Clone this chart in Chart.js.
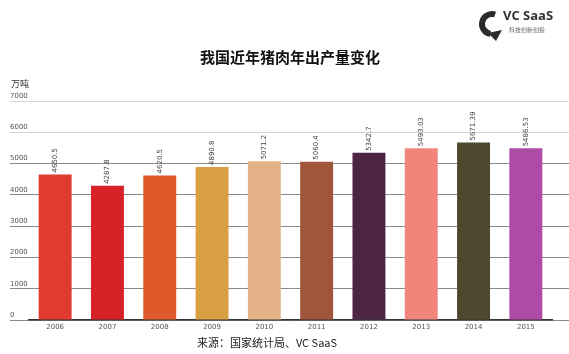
<!DOCTYPE html>
<html>
<head>
<meta charset="utf-8">
<script src="https://cdn.jsdelivr.net/npm/chart.js@4.4.0/dist/chart.umd.min.js"></script>
<style>
  html, body { margin: 0; padding: 0; background: #fff; }
  #wrap { width: 569px; height: 354px; }
</style>
</head>
<body>
<div id="wrap"><canvas id="grafico"></canvas></div>
<script>
const anios = ['2006', '2007', '2008', '2009', '2010', '2011', '2012', '2013', '2014', '2015'];
const produccion = [4650.5, 4287.8, 4620.5, 4890.8, 5071.2, 5060.4, 5342.7, 5493.03, 5671.39, 5486.53];
const etiquetas = ['4650.5', '4287.8', '4620.5', '4890.8', '5071.2', '5060.4', '5342.7', '5493.03', '5671.39', '5486.53'];
const colores = ['#e13a30', '#d62226', '#de5a2a', '#d9a043', '#e5b287', '#a0563a', '#4d2444', '#f0857c', '#4e482e', '#ae4ba7'];
const ticksY = [0, 1000, 2000, 3000, 4000, 5000, 6000, 7000];

const fuente = '"Noto Sans CJK SC", "Noto Sans", sans-serif';

// textos fijos: titulo, unidad, fuente y logo
const textos = {
    id: 'textos',
    afterDraw(chart) {
        const ctx = chart.ctx;
        ctx.save();
        ctx.fillStyle = '#111';
        ctx.font = 'bold 15px ' + fuente;
        ctx.textAlign = 'center';
        ctx.textBaseline = 'middle';
        ctx.fillText('我国近年猪肉年出产量变化', 290, 57);

        ctx.fillStyle = '#333';
        ctx.font = '9px ' + fuente;
        ctx.textAlign = 'left';
        ctx.fillText('万吨', 11, 84);

        ctx.font = '11px ' + fuente;
        ctx.textAlign = 'center';
        ctx.fillStyle = '#222';
        ctx.fillText('来源：国家统计局、VC SaaS', 267, 343);

        // logo
        ctx.strokeStyle = '#2b2b2b';
        ctx.lineWidth = 6;
        ctx.beginPath();
        ctx.arc(492, 24, 10, Math.PI * 0.55, Math.PI * 1.6);
        ctx.stroke();
        ctx.fillStyle = '#2b2b2b';
        ctx.beginPath();
        ctx.moveTo(488, 33);
        ctx.lineTo(496, 41);
        ctx.lineTo(502, 30);
        ctx.closePath();
        ctx.fill();
        ctx.font = 'bold 13px "Open Sans", sans-serif';
        ctx.textAlign = 'left';
        ctx.fillStyle = '#333';
        ctx.fillText('VC SaaS', 503, 16);
        ctx.font = '6px ' + fuente;
        ctx.fillStyle = '#666';
        ctx.fillText('科技创新创投', 509, 30);
        ctx.restore();
    }
};

// valores verticales encima de cada barra
const valores = {
    id: 'valores',
    afterDatasetsDraw(chart) {
        const ctx = chart.ctx;
        const meta = chart.getDatasetMeta(0);
        ctx.save();
        ctx.fillStyle = '#444';
        ctx.font = '7px "DejaVu Sans", sans-serif';
        ctx.textAlign = 'left';
        ctx.textBaseline = 'middle';
        meta.data.forEach((barra, i) => {
            ctx.save();
            ctx.translate(barra.x, barra.y - 2);
            ctx.rotate(-Math.PI / 2);
            ctx.fillText(etiquetas[i], 0, 0);
            ctx.restore();
        });
        ctx.restore();
    }
};

const colorRejilla = (c) => c.tick && c.tick.value >= 6000 ? '#d4d4d4' : '#8a8a8a';

new Chart(document.getElementById('grafico'), {
    type: 'bar',
    data: {
        labels: anios,
        datasets: [{
            data: produccion,
            backgroundColor: colores,
            borderWidth: 0,
            categoryPercentage: 1,
            barPercentage: 0.63
        }]
    },
    options: {
        responsive: true,
        maintainAspectRatio: false,
        animation: false,
        layout: { padding: { top: 101, left: 10, right: 0, bottom: 20 } },
        plugins: {
            legend: { display: false },
            tooltip: { enabled: false }
        },
        scales: {
            x: {
                grid: { display: false, drawTicks: false },
                border: { display: true, color: '#333', width: 1.5 },
                ticks: {
                    color: '#555',
                    font: { size: 7, family: '"DejaVu Sans", sans-serif' },
                    padding: 3,
                    maxRotation: 0
                },
                afterFit: (s) => { s.height = 14; }
            },
            y: {
                min: 0,
                max: 7000,
                afterBuildTicks: (s) => { s.ticks = ticksY.map(v => ({ value: v })); },
                grid: { color: colorRejilla, tickLength: 19, lineWidth: 1 },
                border: { display: false },
                ticks: {
                    color: '#555',
                    font: { size: 7, family: '"DejaVu Sans", sans-serif' },
                    crossAlign: 'far',
                    labelOffset: -5,
                    padding: 0,
                    callback: (v) => String(v)
                },
                afterFit: (s) => { s.width = 19; }
            },
            yDer: {
                position: 'right',
                min: 0,
                max: 7000,
                afterBuildTicks: (s) => { s.ticks = ticksY.map(v => ({ value: v })); },
                grid: { color: colorRejilla, tickLength: 17, drawOnChartArea: false },
                border: { display: false },
                ticks: { display: false },
                afterFit: (s) => { s.width = 17; }
            }
        }
    },
    plugins: [textos, valores]
});
</script>
</body>
</html>
